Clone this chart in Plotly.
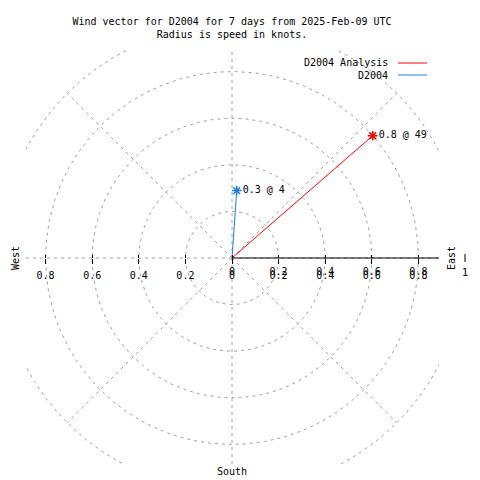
import numpy as np
import plotly.graph_objects as go

# ---------------- data ----------------
title_lines = ["Wind vector for D2004 for 7 days from 2025-Feb-09 UTC",
               "Radius is speed in knots."]
series_names = ["D2004 Analysis", "D2004"]
series_speed = [0.80, 0.29]          # knots
series_dir = [49, 4]                 # degrees, compass bearing
series_colors = ["#ff0000", "#1c7fe6"]
ring_radii = [0.2, 0.4, 0.6, 0.8, 1.0]
spoke_angles = [0, 45, 90, 135, 180, 225, 270, 315]
tick_vals = [-0.8, -0.6, -0.4, -0.2, 0, 0.2, 0.4, 0.6, 0.8]
tick_text = ["0.8", "0.6", "0.4", "0.2", "0", "0.2", "0.4", "0.6", "0.8"]
compass_labels = ["West", "East", "South"]
r_tick_label = "1"

# ---------------- geometry ----------------
W = H = 480
cx, cy, scale = 232, 258, 233.0
L, R, T, B = 26, 439, 50, 465
xr = [(L - cx) / scale, (R - cx) / scale]
yr = [(cy - B) / scale, (cy - T) / scale]
axis_pos = 1 - cy / H
FONT = "DejaVu Sans Mono"
GRID = "#a0a0a0"
DASH = "3px,4px"
rmax = max(ring_radii)

fig = go.Figure()

# grid rings
th = np.linspace(0, 2 * np.pi, 721)
for r in ring_radii:
    fig.add_trace(go.Scatter(x=r * np.cos(th), y=r * np.sin(th), mode="lines",
                             line=dict(color=GRID, width=1, dash=DASH),
                             hoverinfo="skip", showlegend=False))
# grid spokes
for a in spoke_angles:
    ar = np.radians(a)
    fig.add_trace(go.Scatter(x=[0, rmax * np.cos(ar)], y=[0, rmax * np.sin(ar)], mode="lines",
                             line=dict(color=GRID, width=1, dash=DASH),
                             hoverinfo="skip", showlegend=False))

# solid radial axis (east)
fig.add_trace(go.Scatter(x=[0, rmax], y=[0, 0], mode="lines", xaxis="x2",
                         line=dict(color="black", width=1),
                         hoverinfo="skip", showlegend=False))

# wind vectors
for name, s, d, c in zip(series_names, series_speed, series_dir, series_colors):
    b = np.radians(d)
    ex, ey = s * np.sin(b), s * np.cos(b)
    fig.add_trace(go.Scatter(x=[0, ex], y=[0, ey], mode="lines", name=name,
                             line=dict(color=c, width=1), showlegend=False))
    fig.add_trace(go.Scatter(x=[ex], y=[ey], mode="markers+text", cliponaxis=False,
                             marker=dict(symbol="asterisk-open", size=8, color=c,
                                         line=dict(color=c, width=1.5)),
                             text=[f"{s:.1f} @ {d:.0f}"], textposition="middle right",
                             textfont=dict(family=FONT, size=10, color="black"),
                             showlegend=False))

def px_x(v):
    return (cx + v * scale) / W

def px_y(v):
    return 1 - (cy - v * scale) / H

txt = dict(family=FONT, size=10, color="black")
ann = [
    dict(text=compass_labels[0], x=15 / W, y=px_y(0), textangle=-90),
    dict(text=compass_labels[1], x=451 / W, y=px_y(0), textangle=-90),
    dict(text=compass_labels[2], x=px_x(0), y=1 - 471 / H),
    dict(text=r_tick_label, x=px_x(rmax), y=1 - 272 / H),
]
for a in ann:
    a.update(xref="paper", yref="paper", showarrow=False, font=txt,
             xanchor="center", yanchor="middle")

shapes = [dict(type="line", xref="paper", yref="paper",
               x0=px_x(rmax), x1=px_x(rmax), y0=1 - 254 / H, y1=1 - 262 / H,
               line=dict(color="black", width=1))]

# legend (gnuplot style: text then sample)
for i, (name, c) in enumerate(zip(series_names, series_colors)):
    ypx = 63 + 12 * i
    ann.append(dict(text=name, xref="paper", yref="paper", x=390 / W, y=1 - ypx / H,
                    xanchor="right", yanchor="middle", showarrow=False, font=txt))
    shapes.append(dict(type="line", xref="paper", yref="paper",
                       x0=398 / W, x1=427 / W, y0=1 - ypx / H, y1=1 - ypx / H,
                       line=dict(color=c, width=1)))

fig.update_layout(
    width=W, height=H,
    margin=dict(l=0, r=0, t=0, b=0),
    paper_bgcolor="white", plot_bgcolor="white",
    showlegend=False,
    title=dict(text="<br>".join(title_lines), x=232 / W, xanchor="center",
               y=1 - 25 / H, yanchor="top", font=txt),
    xaxis=dict(range=xr, domain=[L / W, R / W], anchor="free", position=axis_pos,
               tickvals=tick_vals, ticktext=tick_text, ticks="outside", ticklen=5,
               tickcolor="black", tickwidth=1, ticklabelstandoff=3,
               showline=False, showgrid=False, zeroline=False, tickfont=txt),
    xaxis2=dict(overlaying="x", matches="x", anchor="free", position=axis_pos,
                domain=[L / W, R / W],
                tickvals=tick_vals,
                ticktext=[t if v >= 0 else "" for v, t in zip(tick_vals, tick_text)],
                ticks="inside", ticklen=3, tickcolor="black", tickwidth=1,
                ticklabelstandoff=6,
                showline=False, showgrid=False, zeroline=False, tickfont=txt),
    yaxis=dict(range=yr, domain=[1 - B / H, 1 - T / H], visible=False,
               showgrid=False, zeroline=False),
    annotations=ann,
    shapes=shapes,
)

fig.write_html("out.html", config={"displayModeBar": False, "staticPlot": True})

# remove the browser's default 8px body margin so the 480x480 figure fills the window
with open("out.html", encoding="utf-8") as f:
    html = f.read()
html = html.replace("<body>", '<body style="margin:0;padding:0;">', 1)
html = html.replace("<head>", '<head><style>html,body{margin:0;padding:0;overflow:hidden;}</style>', 1)
with open("out.html", "w", encoding="utf-8") as f:
    f.write(html)
